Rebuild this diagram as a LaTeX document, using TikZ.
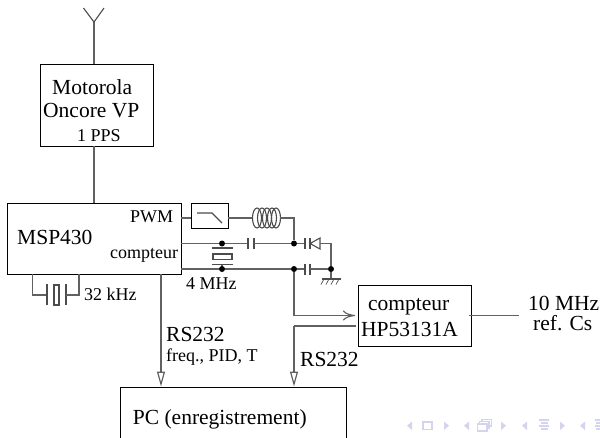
\documentclass[tikz,border=0pt]{standalone}
\usepackage{xcolor}
\usepackage{fontspec}
\setmainfont{Liberation Serif}
\usetikzlibrary{arrows.meta, positioning}
\definecolor{navcol}{RGB}{212,212,240}

\begin{document}
\begin{tikzpicture}[
  x=1pt, y=1pt,
  box/.style={rectangle, draw=black, line width=0.9pt, inner sep=0pt},
  wire/.style={draw=black!62, line width=1.2pt},
  dot/.style={circle, fill=black, inner sep=0pt, minimum size=6pt},
  plate/.style={draw=black!70, line width=1.1pt},
  big/.style={inner sep=0pt, anchor=base west, font=\fontsize{21.5}{24}\selectfont},
  small/.style={inner sep=0pt, anchor=base west, font=\fontsize{18}{20}\selectfont},
  openarrow/.style={wire, -{Triangle[open, length=15pt, width=8pt, fill=white]}},
  linearrow/.style={wire, -{To[length=12pt, width=10pt]}},
  navtip/.style={fill=navcol},
  navline/.style={draw=navcol, line width=1.2pt}
]
\clip[use as bounding box] (0,-437) rectangle (600,0);

% Boxes
\node (oncore) [box, minimum width=113pt, minimum height=82pt] at (96.5,-105) {};
\node (msp) [box, minimum width=174pt, minimum height=71pt] at (94,-238.5) {};
\node (filter) [box, minimum width=37pt, minimum height=25pt] at (209.5,-215.5) {};
\node (hp) [box, minimum width=113pt, minimum height=61pt] at (414.5,-315.5) {};
\node (pc) [box, minimum width=226pt, minimum height=100pt] at (233,-437) {};

% Antenna
\coordinate (ant) at (94,-22);
\draw [wire] (ant) -- (oncore.north -| ant);
\draw [plate] (83.5,-8) -- (ant) -- (104,-8);
\draw [wire] (oncore.south -| ant) -- (msp.north -| ant);

% Texts
\node [big] at (52,-94) {Motorola};
\node [big] at (43,-117) {Oncore VP};
\node [small] at (77,-141) {1 PPS};
\node [big] at (17,-244) {MSP430};
\node [small] at (130,-222.7) {PWM};
\node [small] at (110,-258.7) {compteur};
\node [small] at (84,-300) {32 kHz};
\node [small] at (186,-289) {4 MHz};
\node [big] at (166,-341) {RS232};
\node [small] at (166,-361.7) {freq., PID, T};
\node [big] at (300,-366.7) {RS232};
\node [big] at (132.7,-424) {PC (enregistrement)};
\node [big] at (368,-310.7) {compteur};
\node [big] at (361,-336) {HP53131A};
\node [big] at (528,-310) {10 MHz};
\node [big] at (533,-330) {ref. Cs};

% Junctions
\node (xtalA) [dot] at (222,-243.5) {};
\node (xtalB) [dot] at (222,-269) {};
\node (capA) [dot] at (294,-243.5) {};
\node (capB) [dot] at (294,-269) {};
\node (gnd) [dot] at (331,-269) {};

% PWM branch
\coordinate (coilL) at (252,-218);
\coordinate (coilR) at (280,-218);
\draw [wire] (msp.east |- coilL) -- (filter.west |- coilL);
\draw [wire] (filter.east |- coilL) -- (coilL);
\draw [plate] (197,-213) -- (212,-213) -- (222,-223);
\foreach \x in {257,262,267,272,276} {
  \draw [plate] (\x,-218) ellipse (4.5pt and 10pt);
}
\draw [wire] (coilR) -| (capA);

% Compteur lines
\draw [wire] (msp.east |- xtalA) -- (xtalA) -- (248,-243.5);
\draw [plate] (248,-238) -- (248,-249);
\draw [plate] (254,-238) -- (254,-249);
\draw [wire] (254,-243.5) -- (capA);
\draw [wire] (msp.east |- xtalB) -- (xtalB) -- (capB) -- (305,-269);
\draw [plate] (305,-263.5) -- (305,-274.5);
\draw [plate] (310,-263.5) -- (310,-274.5);
\draw [wire] (310,-269) -- (gnd);

% 4 MHz crystal
\draw [wire] (xtalA) -- (222,-248);
\draw [plate] (212,-248) -- (233,-248);
\draw [plate] (213,-254) rectangle (232,-259.5);
\draw [plate] (212,-264.5) -- (233,-264.5);
\draw [wire] (222,-264.5) -- (xtalB);

% Diode
\draw [wire] (capA) -- (305,-243.5);
\draw [plate] (305,-238) -- (305,-249);
\draw [plate] (310,-238) -- (310,-249);
\draw [plate] (310,-243.5) -- (320,-238) -- (320,-249) -- cycle;
\draw [wire] (320,-243.5) -| (gnd);

% Ground
\draw [wire] (gnd) -- (331,-279);
\draw [plate] (322,-279) -- (341,-279);
\foreach \x in {324,329,334,339} {
  \draw [draw=black!70, line width=0.7pt] (\x,-279) -- (\x-3,-284.5);
}

% 32 kHz crystal
\draw [wire] (msp.south -| 32.5,0) |- (47,-295);
\draw [plate] (47,-284) -- (47,-305);
\draw [plate] (54,-285) rectangle (59,-305);
\draw [plate] (66,-284) -- (66,-305);
\draw [wire] (66,-295) -| (msp.south -| 79,0);

% To PC and HP
\draw [openarrow] (msp.south -| 161,0) -- (pc.north -| 161,0);
\coordinate (hpin) at (294,-315.5);
\draw [linearrow] (capB) -- (hpin) -- (355,-315.5);
\draw [wire] (356,-326) -- (294,-326);
\draw [openarrow] (294,-326) -- (pc.north -| 294,0);
\coordinate (ref) at (519,-315.5);
\draw [wire] (469,-315.5) -- (ref);

% Navigation symbols
\foreach \x in {407,464,522,580} {
  \fill [navtip] (\x,-425.7) -- (\x+5,-421.5) -- (\x+5,-430) -- cycle;
}
\foreach \x in {444,501,560} {
  \fill [navtip] (\x+5,-425.7) -- (\x,-421.5) -- (\x,-430) -- cycle;
}
\draw [navline] (423,-422) rectangle (432,-429.5);
\draw [navline, fill=white] (482,-419.5) rectangle (491.5,-426);
\draw [navline, fill=white] (479.5,-421.5) rectangle (489,-428);
\draw [navline, fill=white] (477.5,-424) rectangle (487,-431);
\foreach \x/\y/\w in {539/420/10,541/423/7,539/426/10,541/429/7,595/420/5,596/423/4,595/426/5,596/429/4} {
  \draw [navline] (\x,-\y) -- ++(\w,0);
}
\end{tikzpicture}
\end{document}
